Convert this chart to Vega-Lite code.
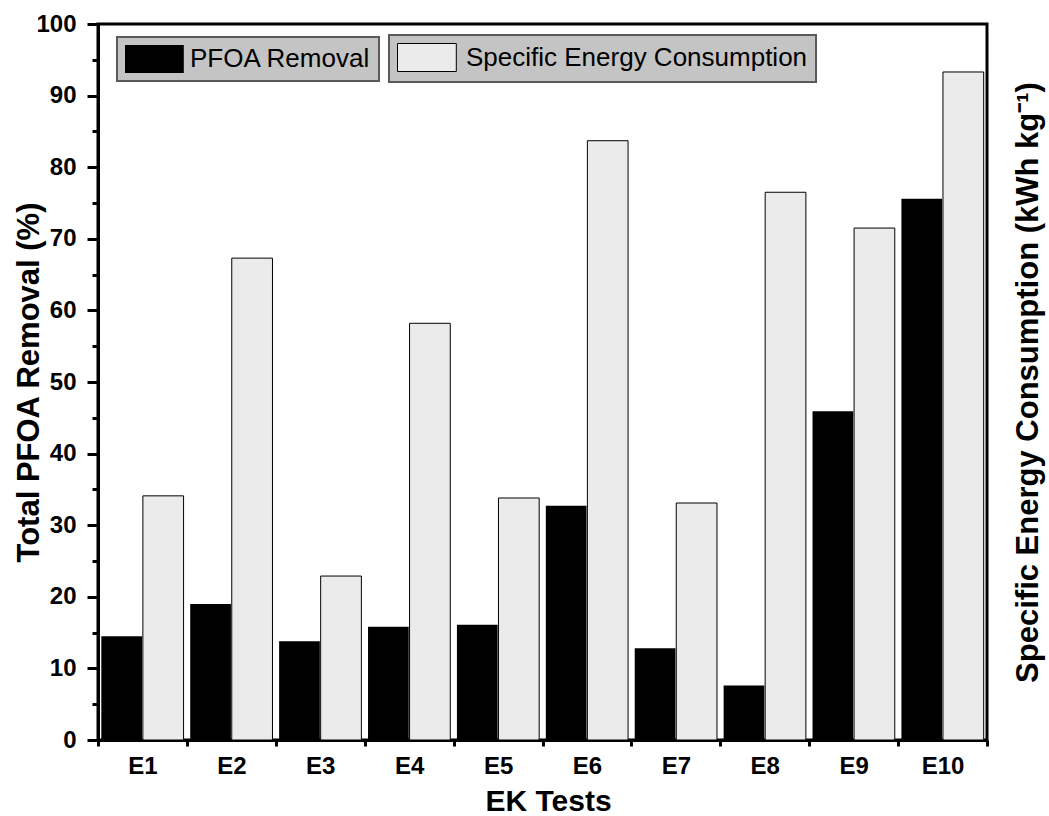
{
  "$schema": "https://vega.github.io/schema/vega-lite/v6.json",
  "width": 889,
  "height": 716,
  "autosize": "none",
  "padding": {"left": 98, "top": 24, "right": 62, "bottom": 76},
  "background": "white",
  "config": {
    "font": "Liberation Sans",
    "view": {"stroke": "black", "strokeWidth": 3},
    "axis": {"domainColor": "black", "domainWidth": 3, "tickColor": "black", "labelColor": "black", "titleColor": "black", "grid": false, "labelFont": "Liberation Sans", "titleFont": "Liberation Sans"},
    "legend": {"strokeWidth": 2}
  },
  "data": {
    "values": [
      {"test": "E1", "series": "PFOA Removal", "value": 14.5},
      {"test": "E2", "series": "PFOA Removal", "value": 19.0},
      {"test": "E3", "series": "PFOA Removal", "value": 13.8},
      {"test": "E4", "series": "PFOA Removal", "value": 15.8},
      {"test": "E5", "series": "PFOA Removal", "value": 16.1},
      {"test": "E6", "series": "PFOA Removal", "value": 32.7},
      {"test": "E7", "series": "PFOA Removal", "value": 12.8},
      {"test": "E8", "series": "PFOA Removal", "value": 7.6},
      {"test": "E9", "series": "PFOA Removal", "value": 45.9},
      {"test": "E10", "series": "PFOA Removal", "value": 75.6},
      {"test": "E1", "series": "Specific Energy Consumption", "value": 34.1},
      {"test": "E2", "series": "Specific Energy Consumption", "value": 67.3},
      {"test": "E3", "series": "Specific Energy Consumption", "value": 22.9},
      {"test": "E4", "series": "Specific Energy Consumption", "value": 58.2},
      {"test": "E5", "series": "Specific Energy Consumption", "value": 33.8},
      {"test": "E6", "series": "Specific Energy Consumption", "value": 83.7},
      {"test": "E7", "series": "Specific Energy Consumption", "value": 33.1},
      {"test": "E8", "series": "Specific Energy Consumption", "value": 76.5},
      {"test": "E9", "series": "Specific Energy Consumption", "value": 71.5},
      {"test": "E10", "series": "Specific Energy Consumption", "value": 93.3}
    ]
  },
  "encoding": {
    "x": {
      "field": "test", "type": "nominal",
      "scale": {"domain": ["E1","E2","E3","E4","E5","E6","E7","E8","E9","E10"], "paddingInner": 0, "paddingOuter": 0},
      "axis": {"title": "EK Tests", "labelAngle": 0, "tickBand": "extent", "tickSize": 6, "tickWidth": 3,
               "labelFontSize": 24, "labelFontWeight": "bold", "labelBaseline": "alphabetic", "labelPadding": 27,
               "titleFontSize": 30, "titleFontWeight": "bold", "titleBaseline": "alphabetic", "titleX": 450, "titleY": 70}
    },
    "xOffset": {
      "field": "series", "type": "nominal",
      "scale": {"domain": ["PFOA Removal", "Specific Energy Consumption"], "paddingInner": 0.02, "paddingOuter": 0.08}
    }
  },
  "layer": [
    {
      "transform": [{"filter": "datum.series === 'PFOA Removal'"}],
      "mark": {"type": "bar"},
      "encoding": {
        "y": {
          "field": "value", "type": "quantitative",
          "scale": {"domain": [0, 100], "nice": false},
          "axis": {
            "title": "Total PFOA Removal (%)",
            "values": [0,5,10,15,20,25,30,35,40,45,50,55,60,65,70,75,80,85,90,95,100],
            "labelExpr": "datum.value % 10 === 0 ? datum.label : ''",
            "tickSize": {"condition": {"test": "datum.value % 10 === 0", "value": 11}, "value": 6},
            "tickWidth": 3,
            "labelFontSize": 24, "labelFontWeight": "bold", "labelPadding": 11,
            "titleFontSize": 31, "titleFontWeight": "bold", "titleAngle": 270,
            "titleBaseline": "alphabetic", "titleAlign": "center", "titleX": -60, "titleY": 358
          }
        },
        "fill": {
          "field": "series", "type": "nominal",
          "scale": {"range": ["black"]},
          "legend": {
            "orient": "none", "legendX": 19, "legendY": 13, "title": null,
            "fillColor": "#c4c4c4", "strokeColor": "#5a5a5a", "padding": 8,
            "symbolType": "M-1,-1H3.2V1H-1Z", "symbolSize": 784, "symbolStrokeWidth": 0,
            "labelFontSize": 26, "labelFont": "Liberation Sans", "labelColor": "black", "labelOffset": 37, "labelLimit": 500
          }
        }
      }
    },
    {
      "transform": [{"filter": "datum.series === 'Specific Energy Consumption'"}],
      "mark": {"type": "bar", "stroke": "black", "strokeWidth": 1},
      "encoding": {
        "y": {
          "field": "value", "type": "quantitative",
          "scale": {"domain": [0, 100], "nice": false},
          "axis": {
            "orient": "right", "title": "Specific Energy Consumption (kWh kg⁻¹)",
            "labels": false, "ticks": false, "domain": false,
            "titleFontSize": 31, "titleFontWeight": "bold", "titleAngle": 270,
            "titleBaseline": "alphabetic", "titleAlign": "center", "titleX": 50, "titleY": 358
          }
        },
        "fill": {
          "field": "series", "type": "nominal",
          "scale": {"range": ["#ebebeb"]},
          "legend": {
            "orient": "none", "legendX": 291, "legendY": 11, "title": null,
            "fillColor": "#c4c4c4", "strokeColor": "#5a5a5a", "padding": 8,
            "symbolType": "M-1,-1H3.2V1H-1Z", "symbolSize": 784, "symbolStrokeColor": "black", "symbolStrokeWidth": 1,
            "labelFontSize": 26, "labelFont": "Liberation Sans", "labelColor": "black", "labelOffset": 40, "labelLimit": 500
          }
        }
      }
    }
  ],
  "resolve": {"scale": {"y": "independent", "fill": "independent"}}
}
